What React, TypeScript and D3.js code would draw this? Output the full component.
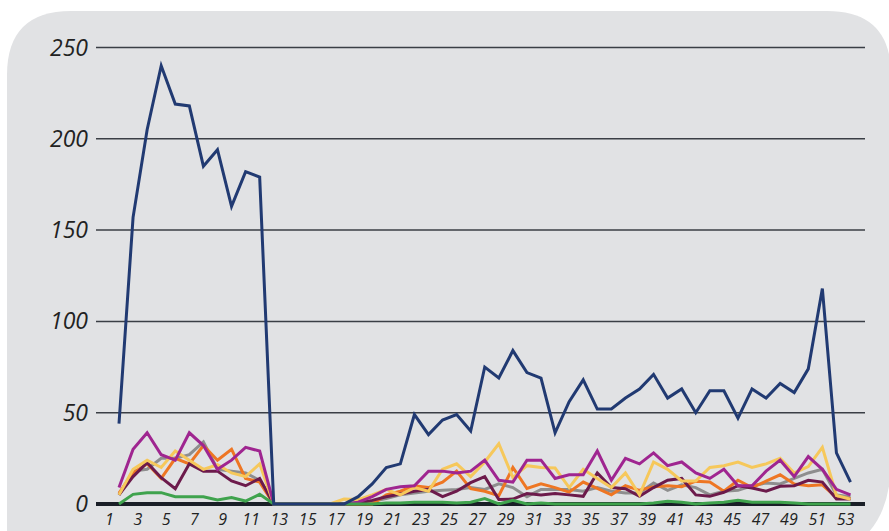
import React from 'react';
import * as d3 from 'd3';

// week numbers 1..53
const weeks = d3.range(1, 54);
const yTicks = [0, 50, 100, 150, 200, 250];
const xTickLabels = weeks.filter(w => w % 2 === 1);

const navy = [44, 157, 205, 240, 219, 218, 185, 194, 163, 182, 179, 0,
  0, 0, 0, 0, 0, 4, 11, 20, 22, 49, 38, 46, 49, 40, 75, 69, 84, 72, 69, 39, 56, 68, 52, 52,
  58, 63, 71, 58, 63, 50, 62, 62, 47, 63, 58, 66, 61, 74, 118, 28, 12];
const purple = [9, 30, 39, 27, 24, 39, 32, 19, 24, 31, 29, 0,
  0, 0, 0, 0, 0, 1, 4, 8, 9.5, 10, 18, 18, 17, 18, 24, 13, 12, 24, 24, 14, 16, 16, 29, 13,
  25, 22, 28, 21, 23, 17, 14, 19, 10, 10, 18, 24, 15, 26, 19, 8, 5];
const gray = [5, 18, 19, 25, 25, 27, 34, 19, 18, 17, 13, 0,
  0, 0, 0, 0, 0, 0.5, 1.5, 3, 5, 6, 7, 7.5, 8, 9, 8, 11, 9, 4, 8, 8, 8, 7, 9, 7,
  6, 6, 11.5, 7.5, 10.5, 9, 5, 7, 7.5, 10, 11.5, 11, 14, 17, 19, 5, 4];
const orange = [6, 17, 22, 14, 25, 22, 32, 24, 30, 14, 12, 0,
  0, 0, 0, 0, 0, 0, 0, 5, 7, 10, 9, 12, 18, 8.4, 7, 4.5, 20, 8.5, 11, 9, 6.5, 12, 8.5, 5,
  10, 7.5, 9.5, 10, 9.5, 12.5, 12, 7, 13, 9, 12.5, 16, 11, 10, 10.5, 3.5, 3];
const yellow = [5, 19, 24, 20, 29, 24, 19, 21.5, 17, 15, 22, 0,
  0, 0, 0, 0, 2.7, 2.4, 5, 8, 5, 9, 7, 19, 22, 15, 23, 33, 14.5, 21, 20, 19.7, 9, 19, 14, 9,
  17, 5, 23, 19, 12.6, 12.6, 20, 21, 23, 20, 22, 25, 17, 20.5, 31, 4.7, 2.6];
const maroon = [5, 15, 22.6, 14.4, 8.4, 22, 18, 18, 12.6, 10, 14, 0,
  0, 0, 0, 0, 0, 0.5, 2, 4, 5.5, 7, 8, 4, 7, 11.7, 15, 2.5, 2.7, 5.7, 5, 5.7, 5, 4.2, 17, 9,
  8.4, 4.2, 9, 13, 14, 5, 4.2, 6.4, 10, 8.8, 7, 9.7, 10, 13, 12, 2.7, 2.7];
const green = [0, 5.3, 6.2, 6.2, 4, 4, 4, 2.2, 3.5, 1.6, 5.3, 0,
  0, 0, 0, 0, 0, 0, 0, 0.5, 0.5, 1, 1, 1, 0.5, 1, 3, 0, 2, 0, 0.5, 0, 0, 0, 0, 0,
  0, 0, 0.5, 1.5, 1, 0, 0.5, 1, 2, 1, 1, 1, 0.5, 0, 0, 0, 0];

// drawing order: bottom to top
const series = [
  { name: 'gray', values: gray, color: '#8e8e8e' },
  { name: 'orange', values: orange, color: '#ee7623' },
  { name: 'maroon', values: maroon, color: '#6c1a4b' },
  { name: 'yellow', values: yellow, color: '#f6c85b' },
  { name: 'purple', values: purple, color: '#9f2590' },
  { name: 'green', values: green, color: '#3fa34d' },
  { name: 'navy', values: navy, color: '#213a72' },
];

const W = 889;
const H = 531;

export default function App() {
  const x = d3.scaleLinear().domain([1, 53]).range([119, 850.5]);
  const xLabel = d3.scaleLinear().domain([1, 53]).range([109.5, 845.5]);
  const y = d3.scaleLinear().domain([0, 250]).range([504, 47.5]);

  const line = d3.line<number>()
    .x((_, i) => x(weeks[i]))
    .y(d => y(d))
    .curve(d3.curveLinear);

  // panel with rounded corners, bottom-right more rounded and clipped by the page
  const bg = `M7,75 Q7,11 71,11 L827,11 Q891,11 891,75 L891,460 Q891,560 791,560 L7,560 Z`;

  return (
    <svg width={W} height={H} style={{ position: 'absolute', left: 0, top: 0, display: 'block' }}>
      <rect width={W} height={H} fill="#ffffff" />
      <path d={bg} fill="#e1e2e4" />

      {yTicks.filter(t => t > 0).map(t => (
        <line key={t} x1={96} x2={865} y1={y(t)} y2={y(t)} stroke="#3a3e45" strokeWidth={1.5} />
      ))}
      <line x1={96} x2={865} y1={y(0)} y2={y(0)} stroke="#1a1f27" strokeWidth={4} />

      {yTicks.map(t => (
        <text key={t} x={88} y={y(t) + 8} textAnchor="end" fontFamily="'Open Sans', sans-serif"
          fontStyle="italic" fontSize={23} fill="#222">{t}</text>
      ))}

      {xTickLabels.map(w => (
        <text key={w} x={xLabel(w)} y={525} textAnchor="middle" fontFamily="'Open Sans', sans-serif"
          fontStyle="italic" fontSize={16} fill="#222">{w}</text>
      ))}

      {series.map(s => (
        <path key={s.name} d={line(s.values) || ''} fill="none" stroke={s.color}
          strokeWidth={3} strokeLinejoin="miter" strokeMiterlimit={4} />
      ))}
    </svg>
  );
}
